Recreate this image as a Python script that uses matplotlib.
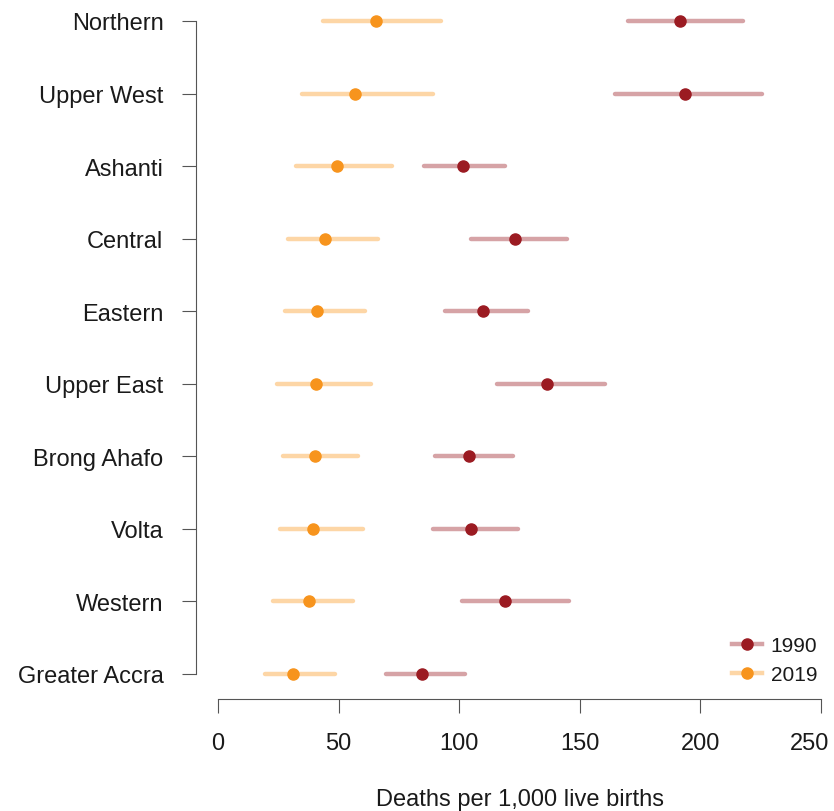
import numpy as np
import matplotlib.pyplot as plt
from matplotlib.transforms import ScaledTranslation

plt.rcParams['font.family'] = ['Liberation Sans', 'DejaVu Sans']

regions = ['Greater Accra', 'Western', 'Volta', 'Brong Ahafo', 'Upper East',
           'Eastern', 'Central', 'Ashanti', 'Upper West', 'Northern']

# 1990 estimates with uncertainty bounds
val_1990 = [84.6, 119.0, 105.0, 104.0, 136.4, 110.0, 123.0, 101.6, 193.6, 191.5]
lo_1990 = [69.7, 101.0, 89.0, 90.0, 115.7, 94.0, 105.0, 85.4, 164.6, 170.0]
hi_1990 = [102.4, 145.5, 124.4, 122.3, 160.4, 128.5, 144.7, 119.0, 225.5, 217.7]

# 2019 estimates with uncertainty bounds
val_2019 = [31.0, 37.7, 39.4, 40.2, 40.6, 41.0, 44.4, 49.3, 56.8, 65.5]
lo_2019 = [19.5, 22.8, 25.7, 27.0, 24.5, 27.8, 29.0, 32.3, 34.8, 43.5]
hi_2019 = [48.5, 56.0, 60.0, 58.0, 63.4, 61.0, 66.3, 72.0, 89.0, 92.5]

c1990, c1990_ci = '#9B1B22', '#D6A3A6'
c2019, c2019_ci = '#F7941D', '#FDD6A6'
axis_col = '#555555'
txt_col = '#1a1a1a'
fs = 17

fig = plt.figure(figsize=(8.34, 8.12), dpi=100)
ax = fig.add_axes([218 / 834, 137 / 812, 603 / 834, 653 / 812])

y = np.arange(len(regions))
lw, ms = 3.2, 8

ax.hlines(y, lo_2019, hi_2019, color=c2019_ci, lw=lw, capstyle='round', clip_on=False)
ax.hlines(y, lo_1990, hi_1990, color=c1990_ci, lw=lw, capstyle='round', clip_on=False)
ax.plot(val_2019, y, 'o', color=c2019, ms=ms, clip_on=False, zorder=3)
ax.plot(val_1990, y, 'o', color=c1990, ms=ms, clip_on=False, zorder=3)

# legend handles: light line with dark point
h1, = ax.plot([], [], '-o', color=c1990_ci, lw=lw, ms=ms, mfc=c1990, mec=c1990)
h2, = ax.plot([], [], '-o', color=c2019_ci, lw=lw, ms=ms, mfc=c2019, mec=c2019)
leg = ax.legend([h1, h2], ['1990', '2019'], loc='upper left', frameon=False,
                fontsize=15, handlelength=1.45, handletextpad=0.4, labelspacing=0.5,
                borderpad=0, borderaxespad=0,
                bbox_to_anchor=(732 / 834, 1 - 637 / 812), bbox_transform=fig.transFigure)
for t in leg.get_texts():
    t.set_color(txt_col)

ax.set_xlim(0, 250)
ax.set_ylim(0, 9)
ax.set_xticks([0, 50, 100, 150, 200, 250])
ax.set_yticks(y)
ax.set_yticklabels(regions)

for s in ['top', 'right']:
    ax.spines[s].set_visible(False)
ax.spines['bottom'].set_position(('outward', 18))
ax.spines['left'].set_position(('outward', 15.8))
ax.spines['bottom'].set_color(axis_col)
ax.spines['left'].set_color(axis_col)

ax.tick_params(axis='y', length=10, pad=13.5, labelsize=fs, color=axis_col, labelcolor=txt_col)
ax.tick_params(axis='x', length=10, pad=14, labelsize=fs, color=axis_col, labelcolor=txt_col)

# last tick label sits slightly left so it stays inside the figure
last = ax.get_xticklabels()[-1]
last.set_transform(last.get_transform() + ScaledTranslation(-0.11, 0, fig.dpi_scale_trans))

ax.set_xlabel('Deaths per 1,000 live births', fontsize=fs, labelpad=24, color=txt_col)

fig.savefig('out.png', dpi=100)
